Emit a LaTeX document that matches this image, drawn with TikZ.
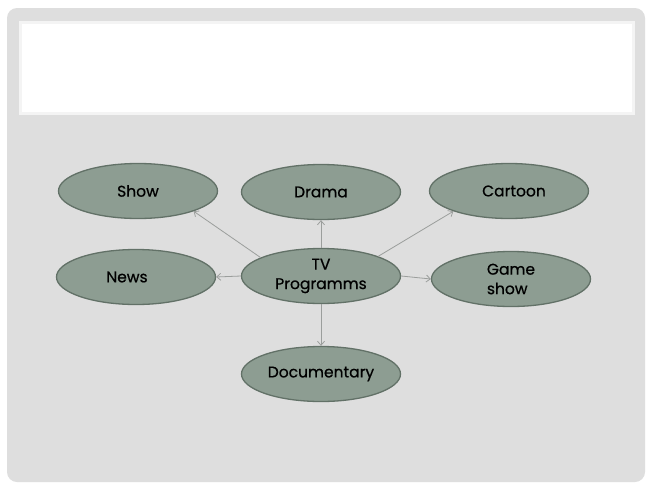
\documentclass[tikz,border=0pt]{standalone}
\usepackage{fontspec}
\setmainfont{Poppins}
\newfontfamily\ovalfont[FakeBold=0.6]{Poppins}
\usetikzlibrary{arrows.meta,shapes.geometric}
\definecolor{slidegray}{RGB}{222,222,222}
\definecolor{framewhite}{RGB}{244,244,244}
\definecolor{ovalfill}{RGB}{141,157,146}
\definecolor{ovaldraw}{RGB}{98,113,103}
\definecolor{linkgray}{RGB}{155,158,156}
\tikzset{
  oval/.style={ellipse, draw=ovaldraw, line width=1.3pt, fill=ovalfill,
    minimum width=159pt, minimum height=55pt, inner sep=0pt,
    font=\ovalfont\fontsize{15.5}{19.5}\selectfont, text=black, align=center},
  link/.style={draw=linkgray, line width=0.8pt, -{Straight Barb[length=4pt,width=7pt]}}
}
\begin{document}
\begin{tikzpicture}[x=1pt,y=-1pt]
\useasboundingbox (0,0) rectangle (653,490);
\fill[white] (0,0) rectangle (653,490);
\fill[slidegray, rounded corners=10pt] (7,8) rectangle (645,482);
\filldraw[fill=white, draw=framewhite, line width=3pt] (20,22) rectangle (633,113);
\node[oval] (show) at (138,191) {Show};
\node[oval] (drama) at (321,192) {Drama};
\node[oval] (cartoon) at (509,191) {\hspace{10pt}Cartoon};
\node[oval] (news) at (136,277) {News\hspace{18pt}};
\node[oval] (tv) at (321,276) {TV\\Programms};
\node[oval, align=left] (game) at (511,279) {Game\\show};
\node[oval] (doc) at (321,374) {Documentary};
\draw[link] (tv.163) -- (show.-20);
\draw[link] (tv.90) -- (drama.-90);
\draw[link] (tv.19) -- (cartoon.-160);
\draw[link] (tv.180) -- (news.0);
\draw[link] (tv.0) -- (game.180);
\draw[link] (tv.-90) -- (doc.90);
\end{tikzpicture}
\end{document}
